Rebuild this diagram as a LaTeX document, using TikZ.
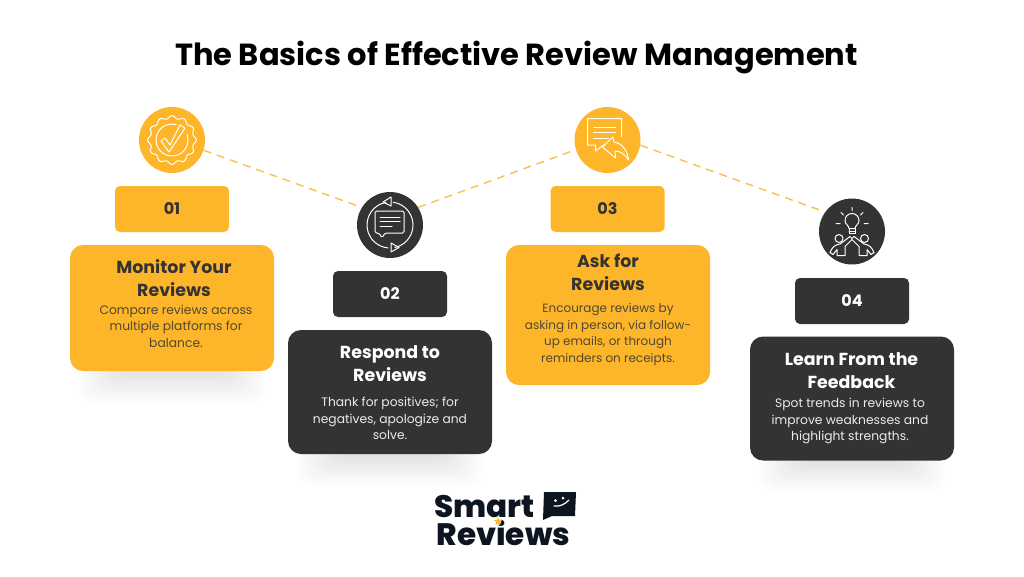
\documentclass[tikz,border=0pt]{standalone}
\usepackage{fontspec}
\setmainfont{Poppins}
\newfontfamily\logofont{Poppins ExtraBold}
\usetikzlibrary{shapes.geometric}
\definecolor{amber}{HTML}{FDB62A}
\definecolor{coal}{HTML}{333333}
\definecolor{ink}{HTML}{0D1520}
\definecolor{dashamber}{HTML}{F6C350}
\tikzset{
  icon/.style={circle, inner sep=0pt, minimum size=66pt},
  badge/.style={rounded corners=5pt, inner sep=0pt, minimum width=114pt, minimum height=46pt, font=\fontsize{16}{16}\selectfont\bfseries},
  card/.style={rounded corners=13pt, inner sep=0pt, minimum width=204pt},
  head/.style={align=center, inner sep=0pt, font=\fontsize{17.4}{23}\selectfont\bfseries},
  body/.style={align=center, inner sep=0pt, font=\fontsize{12.3}{16.6}\selectfont},
  link/.style={draw=dashamber, line width=1.4pt, dash pattern=on 8pt off 6pt},
  glyph/.style={draw=white, line width=1pt, line join=round, line cap=round, fill=none},
  logotext/.style={font=\fontsize{31}{31}\selectfont\logofont, text=ink, inner sep=0pt, anchor=base west},
}
\newcommand{\softshadow}[2]{%
  \foreach \i in {0,...,29} {
    \fill[black, opacity=0.0035, rounded corners=14pt]
      (#1-94+\i*1.5, #2-30) rectangle (#1+94-\i*1.5, #2+32-\i*1.1);
  }}
\begin{document}
\begin{tikzpicture}[x=1pt, y=-1pt]
        \useasboundingbox[fill=white] (0,0) rectangle (1024,576);

        \node[font=\fontsize{30.5}{32}\selectfont\bfseries, text=black, inner sep=0pt] (title) at (516.5, 57) {The Basics of Effective Review Management};

        \softshadow{172}{371}
        \softshadow{390}{454}
        \softshadow{852}{460}

        \node[icon, fill=amber] (icon1) at (172, 140) {};
        \node[icon, fill=coal] (icon2) at (390, 225) {};
        \node[icon, fill=amber] (icon3) at (607.5, 140) {};
        \node[icon, fill=coal] (icon4) at (852, 231.5) {};

        \draw (icon1.-18) edge[link] (icon2.148)
              (icon2.32) edge[link] (icon3.197)
              (icon3.-9) edge[link] (icon4.144);

        % numbers
        \node[badge, fill=amber, text=coal] (badge1) at (172, 209) {01};
        \node[badge, fill=coal, text=white] (badge2) at (390, 294) {02};
        \node[badge, fill=amber, text=coal] (badge3) at (607.5, 209) {03};
        \node[badge, fill=coal, text=white] (badge4) at (852, 301) {04};

        % cards
        \node[card, fill=amber, minimum height=126pt] (card1) at (172, 308) {};
        \node[card, fill=coal, minimum height=124pt] (card2) at (390, 392) {};
        \node[card, fill=amber, minimum height=140pt] (card3) at (608, 315) {};
        \node[card, fill=coal, minimum height=124pt] (card4) at (852, 398.5) {};

        \node[head, text=coal] (head1) at (174, 278.5) {Monitor Your\\Reviews};
        \node[body, text=coal!85!amber] (body1) at (176, 326) {Compare reviews across\\multiple platforms for\\balance.};

        \node[head, text=white] (head2) at (390, 363.5) {Respond to\\Reviews};
        \node[body, text=white!90!coal] (body2) at (390, 418.5) {Thank for positives; for\\negatives, apologize and\\solve.};

        \node[head, text=coal] (head3) at (608, 272) {Ask for\\Reviews};
        \node[body, font=\fontsize{12}{16.6}\selectfont, text=coal!85!amber] (body3) at (608, 334.5) {Encourage reviews by\\asking in person, via follow-\\up emails, or through\\reminders on receipts.};

        \node[head, text=white] (head4) at (851.5, 370.5) {Learn From the\\Feedback};
        \node[body, text=white!90!coal] (body4) at (850, 421) {Spot trends in reviews to\\improve weaknesses and\\highlight strengths.};

        % rosette with tick
        \begin{scope}[shift={(icon1.center)}]
          \draw[glyph] plot[smooth cycle, samples=73, domain=0:355] (\x:{23+1.5*cos(12*\x)});
          \draw[glyph] (-20:16) arc (-20:285:16);
          \draw[glyph] (-11,1) -- (-7,-2) -- (-2,5) -- (8,-15) -- (13,-12) -- (-3,12) -- cycle;
        \end{scope}

        % chat with two arrows
        \begin{scope}[shift={(icon2.center)}]
          \draw[glyph] (-100:23) arc (-100:-265:23);
          \draw[glyph] (-82:23) arc (-82:78:23);
          \draw[glyph] (-7,-23) -- (1,-28) -- (1,-19) -- cycle;
          \draw[glyph] (9,22.5) -- (1,18) -- (1,27) -- cycle;
          \draw[glyph, rounded corners=1.5pt] (-15,-14) -- (14,-14) -- (14,8) -- (-5,8) -- (-8,13) -- (-11,8) -- (-15,8) -- cycle;
          \draw[glyph] (-10,-8) -- (10,-8) (-10,-3.5) -- (10,-3.5) (-10,1) -- (2,1);
        \end{scope}

        % chat with reply arrow
        \begin{scope}[shift={(icon3.center)}]
          \draw[glyph] (-3,5) -- (-4,5) -- (-12,11) -- (-12,5) -- (-20,5) -- (-20,-21.5) -- (14,-21.5) -- (14,-3);
          \draw[glyph] (-14,-13) -- (8,-13) (-14,-7.5) -- (8,-7.5) (-14,-2) -- (1,-2);
          \draw[glyph] (-5,7) -- (5.5,-3) -- (6.5,2) .. controls (14,3) and (20,10) .. (21,20) .. controls (17,14) and (13,11) .. (7.5,11) -- (8,18) -- cycle;
        \end{scope}

        % bulb over two people
        \begin{scope}[shift={(icon4.center)}]
          \draw[glyph] (-3,-3) .. controls (-3,-6) and (-7,-7) .. (-7,-11) arc (180:360:7) .. controls (7,-7) and (3,-6) .. (3,-3) -- cycle;
          \draw[glyph] (-3,-3) -- (-3,2) -- (3,2) -- (3,-3) (-3,-0.5) -- (3,-0.5);
          \draw[glyph] (0,-24) -- (0,-21) (-11,-19) -- (-8.5,-16.5) (11,-19) -- (8.5,-16.5) (-16,-8) -- (-12,-8) (16,-8) -- (12,-8);
          \draw[glyph] (-13,7) circle (4) (12.5,7) circle (4);
          \draw[glyph] (-22,21) .. controls (-20,16) and (-17,13) .. (-12,12.5) -- (-2,5) -- (0,7) -- (2,5) -- (12,12.5) .. controls (17,13) and (20,16) .. (22,21);
          \draw[glyph] (-22,21) -- (-19,23) -- (-15,18) -- (-15,24) -- (-7,24) -- (-7,15) -- (0,8) -- (7,15) -- (7,24) -- (15,24) -- (15,18) -- (19,23) -- (22,21);
        \end{scope}

        % logo
        \node[logotext] (smart) at (434, 517) {Smart};
        \node[logotext] (reviews) at (436.5, 545) {Reviews};
        \fill[ink] (544,492) -- (576,492) -- (575,516) -- (552,516) -- (543,520) -- cycle;
        \draw[white, line width=1.2pt, line cap=round] (554,506) .. controls (560,507) and (565,504) .. (569,500);
        \fill[white] (555.5,500.5) circle (1.5) (563,498) circle (1.5);
        \fill[white] (497.5,521.5) circle (3.6);
        \node[star, star points=5, star point ratio=2.3, fill=amber, inner sep=0pt, minimum size=8.5pt] (spark) at (498, 521.5) {};
    \end{tikzpicture}
\end{document}
